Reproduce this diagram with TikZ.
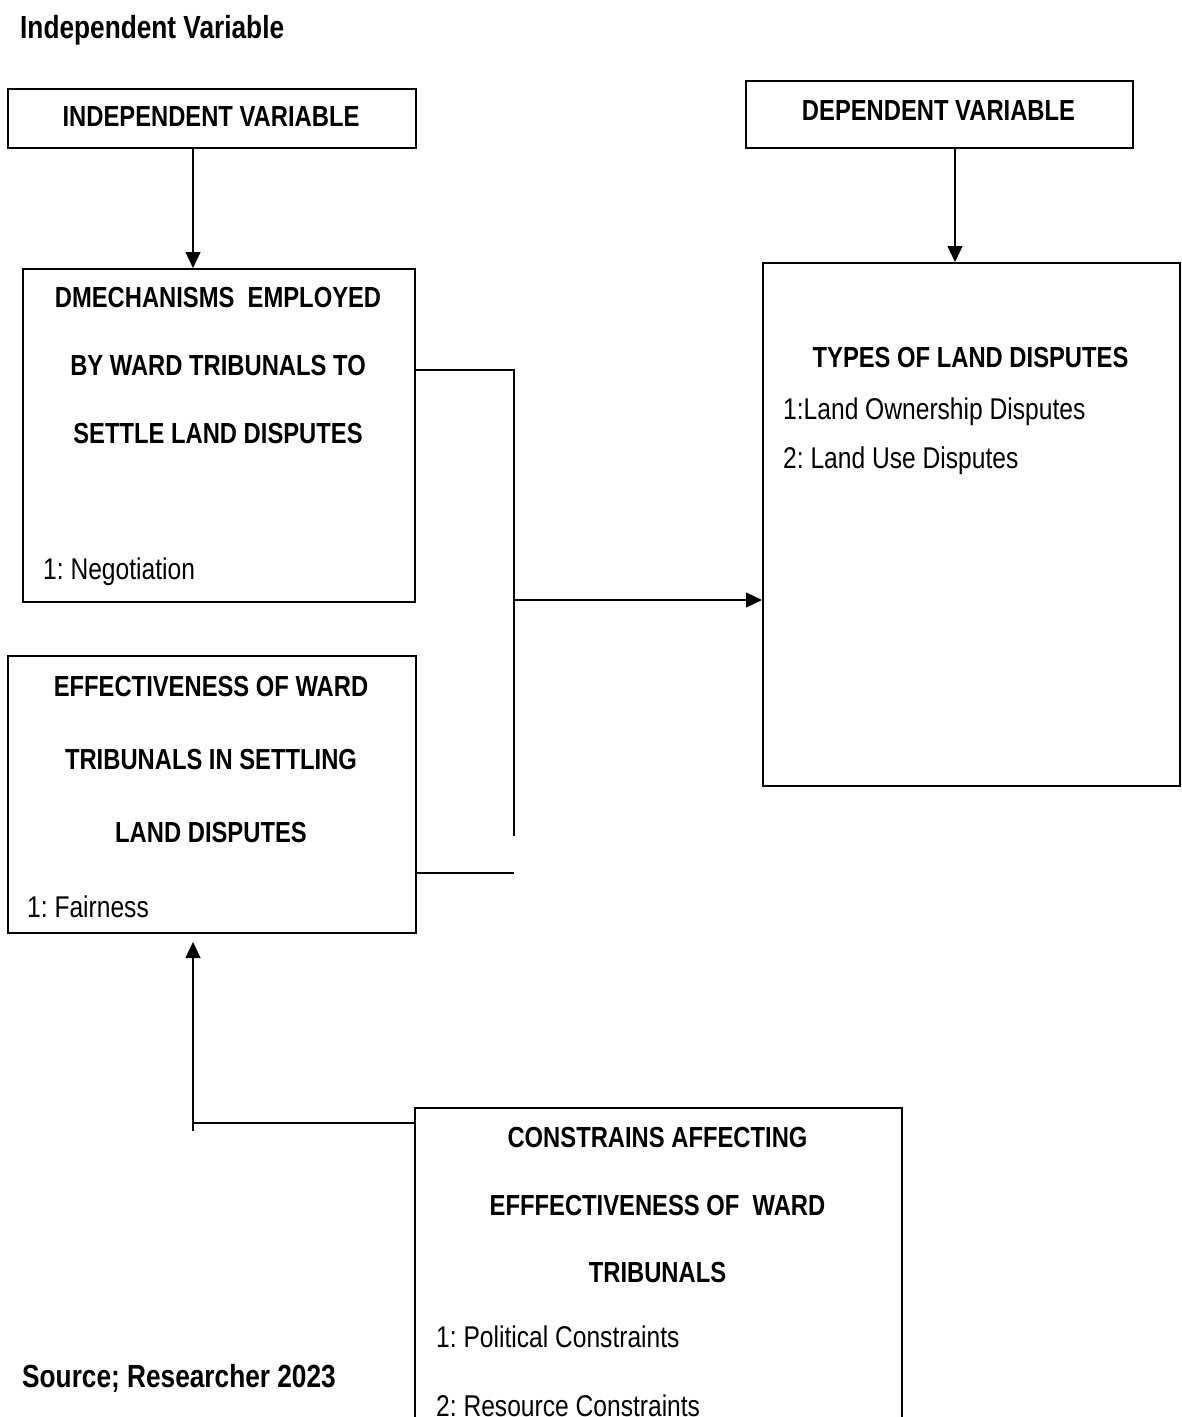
\documentclass[tikz,border=0pt]{standalone}
\usepackage{fontspec}
\setmainfont[FakeStretch=0.82]{Liberation Sans}
\usetikzlibrary{arrows.meta}
\frenchspacing
\begin{document}
\begin{tikzpicture}[x=1pt,y=-1pt,
  box/.style={draw, line width=2pt, rectangle, anchor=north west, inner sep=0pt},
  head/.style={anchor=base, font=\fontsize{29}{34}\selectfont\bfseries, inner sep=0pt},
  item/.style={anchor=base west, font=\fontsize{30}{36}\selectfont, inner sep=0pt},
  ttl/.style={anchor=base west, font=\fontsize{32}{37}\selectfont\bfseries, inner sep=0pt},
  conn/.style={line width=1.2pt},
  arr/.style={conn, -{Triangle[length=16pt,width=15pt]}}]
\useasboundingbox (0,0) rectangle (1182,1417);
\clip (0,0) rectangle (1182,1417);

% boxes
\node[box, minimum width=408pt, minimum height=59pt] (b1) at (7,88) {};
\node[box, minimum width=392pt, minimum height=333pt] (b2) at (22,268) {};
\node[box, minimum width=408pt, minimum height=277pt] (b3) at (7,655) {};
\node[box, minimum width=387pt, minimum height=67pt] (b4) at (745,80) {};
\node[box, minimum width=417pt, minimum height=523pt] (b5) at (762,262) {};
\node[box, minimum width=487pt, minimum height=360pt] (b6) at (414,1107) {};

% texts
\node[ttl] (title) at (20,38) {Independent Variable};
\node[ttl] (source) at (22,1387) {Source; Researcher 2023};

\node[head] (t1) at (211,126) {INDEPENDENT VARIABLE};
\node[head] (t4) at (938.5,120) {DEPENDENT VARIABLE};

\node[head] (t2a) at (218,307) {DMECHANISMS\ \ EMPLOYED};
\node[head] (t2b) at (218,375) {BY WARD TRIBUNALS TO};
\node[head] (t2c) at (218,443) {SETTLE LAND DISPUTES};
\node[item] (t2d) at (43,579) {1: Negotiation};

\node[head] (t3a) at (211,696) {EFFECTIVENESS OF WARD};
\node[head] (t3b) at (211,769) {TRIBUNALS IN SETTLING};
\node[head] (t3c) at (211,842) {LAND DISPUTES};
\node[item] (t3d) at (27,917) {1: Fairness};

\node[head] (t5a) at (970.5,367) {TYPES OF LAND DISPUTES};
\node[item] (t5b) at (783,419) {1:Land Ownership Disputes};
\node[item] (t5c) at (783,468) {2: Land Use Disputes};

\node[head] (t6a) at (657.5,1147) {CONSTRAINS AFFECTING};
\node[head] (t6b) at (657.5,1215) {EFFFECTIVENESS OF\ \ WARD};
\node[head] (t6c) at (657.5,1282) {TRIBUNALS};
\node[item] (t6d) at (436,1347) {1: Political Constraints};
\node[item] (t6e) at (436,1416) {2: Resource Constraints};

% connector coordinates
\coordinate (xa) at (193,0);
\coordinate (xb) at (955,0);
\coordinate (ya) at (0,370);
\coordinate (jend) at (514,836);
\coordinate (jmid) at (514,600);
\coordinate (jlow) at (514,873);
\coordinate (yc) at (0,1123);
\coordinate (ctail) at (193,1131);

% connectors
\draw[arr] (b1.south -| xa) -- (b2.north -| xa);
\draw[arr] (b4.south -| xb) -- (b5.north -| xb);
\draw[conn] (b2.east |- ya) -| (jend);
\draw[arr] (jmid) -- (b5.west |- jmid);
\draw[conn] (b3.east |- jlow) -- (jlow);
\draw[conn] (b6.west |- yc) -- (xa |- yc);
\draw[arr, shorten >=8pt] (ctail) -- (b3.south -| xa);
\end{tikzpicture}
\end{document}
